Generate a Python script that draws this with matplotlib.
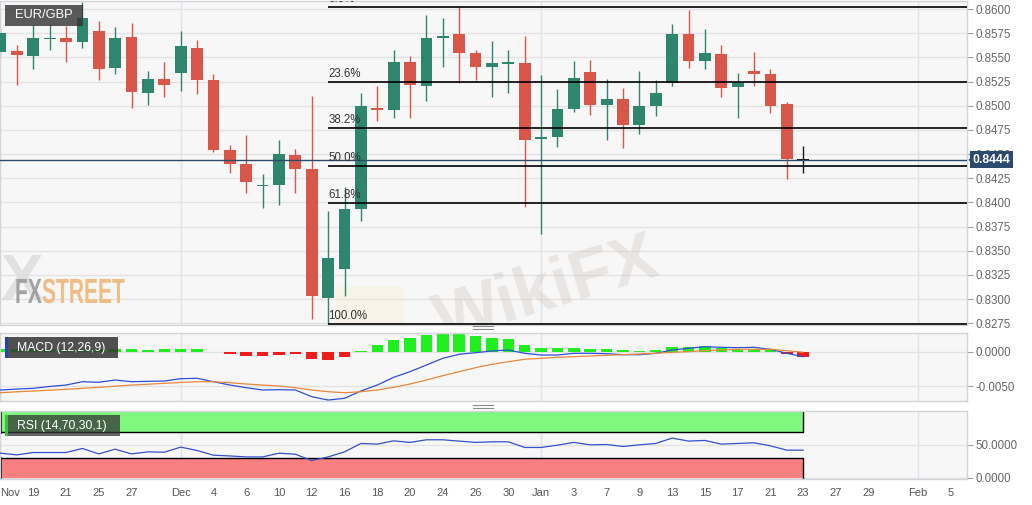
import matplotlib
matplotlib.use("Agg")
import matplotlib.pyplot as plt
import matplotlib.transforms as mtransforms
from matplotlib.patches import Rectangle, Polygon, FancyBboxPatch, PathPatch
from matplotlib.lines import Line2D
from matplotlib.textpath import TextPath
from matplotlib.font_manager import FontProperties

plt.rcParams['font.family'] = ['Liberation Sans', 'DejaVu Sans']

# EUR/GBP diario, 15 nov -> 23 ene (solo dias habiles, indice 0..49)
open_ = [0.8556, 0.8557, 0.8551, 0.8569, 0.8570, 0.8566, 0.8577, 0.8539, 0.8571, 0.8513,
         0.8528, 0.8534, 0.8560, 0.8527, 0.8454, 0.8440, 0.8417, 0.8418, 0.8449, 0.8435,
         0.8301, 0.8331, 0.8393, 0.8498, 0.8496, 0.8545, 0.8520, 0.8570, 0.8574, 0.8555,
         0.8540, 0.8544, 0.8544, 0.8466, 0.8468, 0.8497, 0.8535, 0.8501, 0.8507, 0.8480,
         0.8500, 0.8523, 0.8574, 0.8546, 0.8553, 0.8519, 0.8536, 0.8533, 0.8502, 0.8445]
high = [0.8580, 0.8563, 0.8583, 0.8585, 0.8582, 0.8607, 0.8588, 0.8581, 0.8586, 0.8536,
        0.8545, 0.8577, 0.8568, 0.8533, 0.8459, 0.8470, 0.8429, 0.8465, 0.8455, 0.8510,
        0.8391, 0.8416, 0.8513, 0.8520, 0.8558, 0.8551, 0.8594, 0.8591, 0.8602, 0.8558,
        0.8567, 0.8558, 0.8572, 0.8532, 0.8517, 0.8546, 0.8547, 0.8528, 0.8518, 0.8536,
        0.8527, 0.8584, 0.8599, 0.8579, 0.8563, 0.8534, 0.8556, 0.8538, 0.8504, 0.8458]
low = [0.8551, 0.8521, 0.8538, 0.8558, 0.8545, 0.8560, 0.8527, 0.8533, 0.8498, 0.8501,
       0.8509, 0.8515, 0.8512, 0.8452, 0.8430, 0.8410, 0.8394, 0.8397, 0.8410, 0.8279,
       0.8274, 0.8303, 0.8381, 0.8484, 0.8487, 0.8487, 0.8505, 0.8540, 0.8523, 0.8527,
       0.8509, 0.8513, 0.8395, 0.8367, 0.8457, 0.8493, 0.8490, 0.8465, 0.8456, 0.8471,
       0.8489, 0.8520, 0.8539, 0.8538, 0.8509, 0.8487, 0.8520, 0.8492, 0.8424, 0.8430]
close = [0.8575, 0.8552, 0.8570, 0.8570, 0.8566, 0.8591, 0.8538, 0.8570, 0.8514, 0.8528,
         0.8521, 0.8562, 0.8527, 0.8454, 0.8440, 0.8421, 0.8418, 0.8450, 0.8435, 0.8303,
         0.8342, 0.8393, 0.8500, 0.8496, 0.8545, 0.8521, 0.8570, 0.8572, 0.8555, 0.8540,
         0.8544, 0.8544, 0.8465, 0.8468, 0.8497, 0.8529, 0.8501, 0.8507, 0.8480, 0.8500,
         0.8513, 0.8574, 0.8546, 0.8555, 0.8518, 0.8524, 0.8533, 0.8500, 0.8445, 0.8444]

# MACD (12,26,9)
macd = [-0.00552, -0.00538, -0.00528, -0.00501, -0.00480, -0.00432, -0.00440, -0.00407, -0.00432, -0.00426,
        -0.00422, -0.00388, -0.00382, -0.00432, -0.00480, -0.00519, -0.00552, -0.00548, -0.00552, -0.00650,
        -0.00698, -0.00673, -0.00567, -0.00480, -0.00368, -0.00286, -0.00189, -0.00092, -0.00033, -0.00010,
        0.00015, 0.00029, -0.00019, -0.00044, -0.00044, -0.00019, -0.00019, -0.00025, -0.00039, -0.00039,
        -0.00019, 0.00029, 0.00054, 0.00077, 0.00068, 0.00063, 0.00068, 0.00039, -0.00019, -0.00068]
signal = [-0.00592, -0.00578, -0.00567, -0.00555, -0.00542, -0.00528, -0.00513, -0.00497, -0.00480, -0.00468,
          -0.00455, -0.00443, -0.00432, -0.00432, -0.00446, -0.00465, -0.00480, -0.00494, -0.00519, -0.00552,
          -0.00577, -0.00592, -0.00577, -0.00552, -0.00513, -0.00465, -0.00407, -0.00344, -0.00286, -0.00228,
          -0.00179, -0.00141, -0.00106, -0.00092, -0.00077, -0.00068, -0.00058, -0.00048, -0.00039, -0.00029,
          -0.00019, -0.00004, 0.00004, 0.00019, 0.00029, 0.00039, 0.00039, 0.00039, 0.00019, -0.00004]
hist = [0.0004, 0.0004, 0.0004, 0.0004, 0.0004, 0.0004, 0.0004, 0.0004, 0.0004, 0.0003,
        0.0004, 0.0004, 0.0004, 0.00005, -0.0003, -0.0006, -0.0006, -0.00045, -0.0003, -0.00107,
        -0.00116, -0.00073, 0.00015, 0.0010, 0.00174, 0.0020, 0.00247, 0.0026, 0.00257, 0.00233,
        0.00208, 0.00184, 0.00102, 0.00058, 0.00053, 0.00053, 0.00044, 0.0004, 0.00024, 0.0002,
        0.00024, 0.00068, 0.00077, 0.00087, 0.00058, 0.00048, 0.00044, 0.00029, -0.00034, -0.00068]

# RSI (14)
rsi = [37.3, 34.7, 38.3, 38.3, 38.3, 44.5, 36.2, 43.4, 36.2, 39.3,
       38.8, 46.5, 41.4, 34.2, 33.1, 31.6, 31.6, 37.3, 35.7, 26.1,
       31.6, 39.3, 52.1, 51.1, 56.1, 53.7, 57.7, 57.7, 55.7, 53.7,
       54.6, 54.6, 46.0, 46.0, 49.5, 53.7, 50.0, 50.5, 47.5, 50.0,
       52.1, 60.3, 55.7, 56.7, 51.1, 52.1, 53.1, 48.5, 41.9, 41.9]

x_labels = ["Nov", "19", "21", "25", "27", "Dec", "4", "6", "10", "12", "16", "18", "20", "24",
            "26", "30", "Jan", "3", "7", "9", "13", "15", "17", "21", "23", "27", "29", "Feb", "5"]
x_label_pos = [0.6, 2, 4, 6, 8, 11, 13, 15, 17, 19, 21, 23, 25, 27,
               29, 31, 33, 35, 37, 39, 41, 43, 45, 47, 49, 51, 53, 56, 58]
month_lines = [11, 33, 56]

price_ticks = [0.8275, 0.8300, 0.8325, 0.8350, 0.8375, 0.8400, 0.8425,
               0.8450, 0.8475, 0.8500, 0.8525, 0.8550, 0.8575, 0.8600]
macd_ticks = [-0.0050, 0.0]
rsi_ticks = [0, 50]

fib_high = 0.8602
fib_low = 0.8274
fib_start = 20
fib_levels = [0.0, 23.6, 38.2, 50.0, 61.8, 100.0]

W, H = 1032, 505
XMIN, XMAX = -0.03, 59.0


def px_box(left, top, right, bottom):
    return [left / W, 1 - bottom / H, (right - left) / W, (bottom - top) / H]


def fig_rect(fig, left, top, right, bottom, **kw):
    r = Rectangle((left / W, 1 - bottom / H), (right - left) / W, (bottom - top) / H,
                  transform=fig.transFigure, **kw)
    fig.add_artist(r)


def text_path(fig, s, x, y, size, sx, color, alpha=1.0):
    prop = FontProperties(family='Liberation Sans', weight='bold')
    tp = TextPath((0, 0), s, size=size, prop=prop)
    tr = mtransforms.Affine2D().scale(sx, 1).translate(x, H - y)
    fig.add_artist(PathPatch(tr.transform_path(tp), fc=color, ec='none', alpha=alpha,
                             transform=mtransforms.IdentityTransform()))


fig = plt.figure(figsize=(W / 100, H / 100), dpi=100)
fig.patch.set_facecolor('white')
ax_p = fig.add_axes(px_box(0, 1, 967, 325))
ax_m = fig.add_axes(px_box(0, 333, 967, 401))
ax_r = fig.add_axes(px_box(0, 411, 967, 479))

for ax in (ax_p, ax_m, ax_r):
    ax.set_facecolor('#f7f7f7')
    ax.set_xlim(XMIN, XMAX)
    for s in ax.spines.values():
        s.set_color('#d3d3db')
        s.set_linewidth(1)
    ax.yaxis.tick_right()
    ax.tick_params(axis='y', direction='out', length=4, width=0.8, color='#a0a0a0',
                   labelcolor='#666666', labelsize=8.3, pad=2)
    ax.tick_params(axis='x', bottom=False, labelbottom=False)
    ax.grid(axis='y', color='#e3e3e3', lw=1)
    ax.set_axisbelow(True)
    for m in month_lines:
        ax.axvline(m, color='#e1e1e8', lw=1, zorder=0.5)

# --- velas ---
up_col = '#2e866e'
down_col = '#d95748'
n = len(close)
for i in range(n):
    o, h, l, c = open_[i], high[i], low[i], close[i]
    if i == n - 1:
        col = '#1a1a1a'
    else:
        col = up_col if c >= o else down_col
    ax_p.vlines(i, l, h, color=col, lw=1.0, zorder=2)
    body = max(abs(c - o), 0.00015)
    ax_p.bar(i, body, bottom=min(o, c) - (body - abs(c - o)) / 2, width=0.72,
             color=col, zorder=3)

# retrocesos de Fibonacci
rng = fib_high - fib_low
for lv in fib_levels:
    y = fib_high - lv / 100 * rng
    ax_p.hlines(y, fib_start, XMAX, color='black', lw=1.2, zorder=4)
    ax_p.annotate(f"{lv:.1f}%", (fib_start, y), xytext=(0, 1.5), textcoords='offset points',
                  fontsize=8.3, color='#333333', va='bottom', ha='left', zorder=5, clip_on=True)

ax_p.axhline(close[-1], color='#2d4a6b', lw=1.0, zorder=4.5)
ax_p.set_ylim(0.82732, 0.86083)
ax_p.set_yticks(price_ticks)
ax_p.set_yticklabels([f"{t:.4f}" for t in price_ticks])

# marcas de agua
ax_p.text(0.566, 0.105, "WikiFX", transform=ax_p.transAxes, rotation=17, fontsize=50,
          fontweight='bold', color='#c9bdb6', alpha=0.3, ha='center', va='center',
          clip_on=True, zorder=1)
ax_p.add_patch(FancyBboxPatch((0.355, 0.0), 0.055, 0.11, boxstyle='round,pad=0.008',
                              transform=ax_p.transAxes, fc='#f7ecc8', ec='none', alpha=0.35,
                              zorder=1, clip_on=True))
ax_p.text(0.022, 0.13, "X", transform=ax_p.transAxes, fontsize=46, fontweight='bold',
          color='#dcdcdc', alpha=0.8, ha='center', va='center', zorder=1)
text_path(fig, "FX", 15, 303, 35, 0.6, '#9a9a9a', 0.9)
text_path(fig, "STREET", 42, 303, 35, 0.6, '#f0b878', 0.9)

# etiqueta del precio actual
bt = mtransforms.blended_transform_factory(ax_p.transAxes, ax_p.transData)
ax_p.text(1.0055, close[-1], f"{close[-1]:.4f}", transform=bt, color='white', fontsize=8.8,
          fontweight='bold', ha='left', va='center', clip_on=False, zorder=10,
          bbox=dict(boxstyle='square,pad=0.2', fc='#2c4a6e', ec='none'))
ax_p.add_patch(Polygon([(1.0015, close[-1]), (1.0065, close[-1] + 0.0005),
                        (1.0065, close[-1] - 0.0005)], closed=True, transform=bt,
                       fc='#2c4a6e', ec='none', clip_on=False, zorder=10))

# --- MACD ---
ax_m.bar(range(n), hist, width=0.7,
         color=['#1fee1f' if v >= 0 else '#ee1c1c' for v in hist], zorder=2)
ax_m.plot(range(n), macd, color='#2f4fd8', lw=0.9, zorder=3)
ax_m.plot(range(n), signal, color='#e8883a', lw=0.9, zorder=3)
ax_m.set_ylim(-0.00712, 0.00276)
ax_m.set_yticks(macd_ticks)
ax_m.set_yticklabels([f"{t:.4f}" for t in macd_ticks])

# --- RSI ---
ax_r.fill_between([XMIN, n - 1], 70, 100, color='#80f880', zorder=1, lw=0)
ax_r.fill_between([XMIN, n - 1], 0, 30, color='#f88080', zorder=1, lw=0)
ax_r.plot([XMIN, n - 1, n - 1], [70, 70, 100], color='black', lw=1, zorder=2)
ax_r.plot([XMIN, n - 1, n - 1], [30, 30, 0], color='black', lw=1, zorder=2)
ax_r.plot([XMIN, XMIN], [70, 100], color='black', lw=2, zorder=2)
ax_r.plot([XMIN, XMIN], [0, 30], color='black', lw=2, zorder=2)
ax_r.plot(range(n), rsi, color='#3552cc', lw=0.9, zorder=3)
ax_r.set_ylim(-2, 101.5)
ax_r.set_yticks(rsi_ticks)
ax_r.set_yticklabels([f"{t:.4f}" for t in rsi_ticks])
ax_r.set_xticks(x_label_pos)
ax_r.set_xticklabels(x_labels)
ax_r.tick_params(axis='x', bottom=True, labelbottom=True, length=0, pad=6.5,
                 labelsize=8, labelcolor='#555555')

# cajas de titulo
fig_rect(fig, 5, 5, 83, 26, fc='#333333', alpha=0.8, ec='none', zorder=20)
fig.text(44 / W, 1 - 15.5 / H, "EUR/GBP", color='white', fontsize=9.3, ha='center',
         va='center', zorder=21)
fig_rect(fig, 5, 337, 118, 358, fc='#333333', alpha=0.85, ec='none', zorder=20)
fig_rect(fig, 5, 337, 7.5, 358, fc='#2040c8', ec='none', zorder=21)
fig.text(17 / W, 1 - 347.5 / H, "MACD (12,26,9)", color='white', fontsize=8.8,
         ha='left', va='center', zorder=21)
fig_rect(fig, 5, 415, 120, 436, fc='#333333', alpha=0.75, ec='none', zorder=20)
fig_rect(fig, 5, 415, 7.5, 436, fc='#40c040', ec='none', zorder=21)
fig.text(17 / W, 1 - 425.5 / H, "RSI (14,70,30,1)", color='white', fontsize=8.8,
         ha='left', va='center', zorder=21)

# separadores entre paneles
for yy in (326, 328.5, 405, 407.5):
    fig.add_artist(Line2D([473 / W, 493 / W], [1 - yy / H] * 2, color='#8a8a8a', lw=0.8))

fig.savefig("out.png", dpi=100)
